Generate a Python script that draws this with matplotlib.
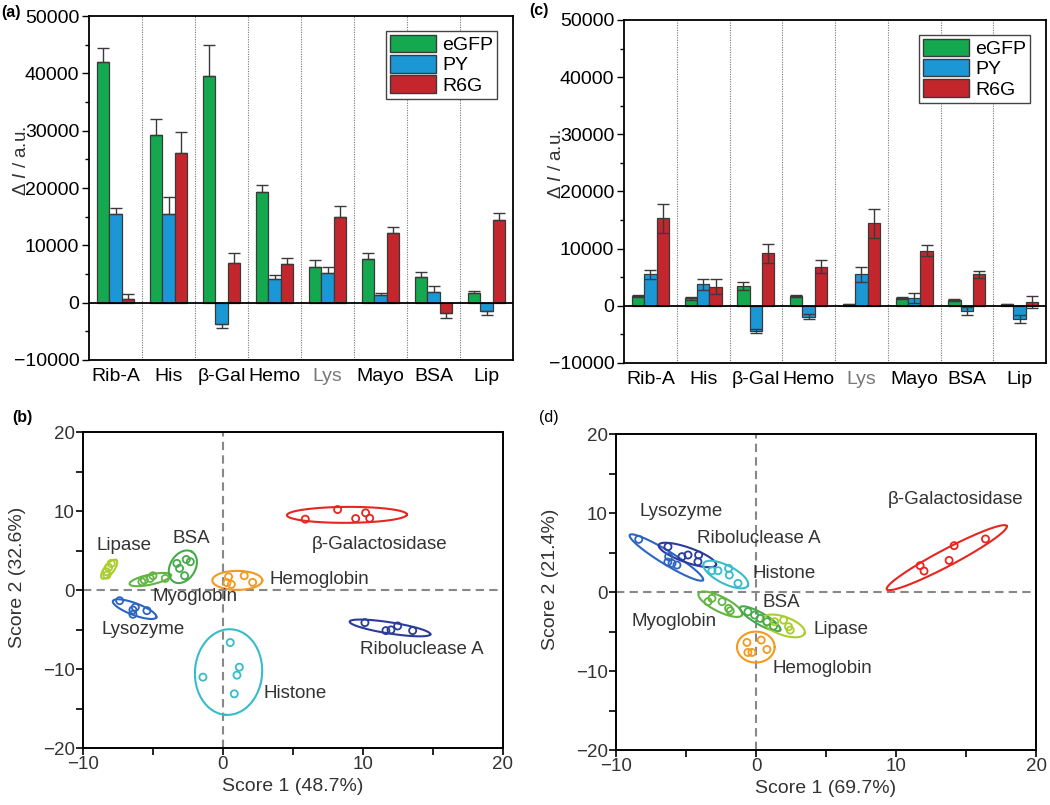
import numpy as np
import matplotlib
matplotlib.use("Agg")
import matplotlib.pyplot as plt
from matplotlib.patches import Patch
from matplotlib.ticker import MultipleLocator

plt.rcParams["font.family"] = ["Liberation Sans", "DejaVu Sans"]
plt.rcParams["mathtext.fontset"] = "custom"
plt.rcParams["mathtext.rm"] = "Liberation Sans"
plt.rcParams["mathtext.it"] = "Liberation Sans:italic"

# ── bar data ────────────────────────────────────────────────────────────────
GROUPS = ["Rib-A", "His", "β-Gal", "Hemo", "Lys", "Mayo", "BSA", "Lip"]
DYES = ["eGFP", "PY", "R6G"]
DYE_COLOURS = ["#14a84f", "#1b97d5", "#c4262e"]

# panel (a)
A_EGFP = [42000, 29300, 39600, 19300, 6200, 7550, 4470, 1630]
A_PY = [15500, 15400, -3720, 4070, 5110, 1340, 1860, -1450]
A_R6G = [600, 26100, 6970, 6680, 14900, 12200, -1740, 14500]
A_EGFP_ERR = [2500, 2700, 5300, 1300, 1300, 1150, 800, 350]
A_PY_ERR = [1000, 3100, 750, 700, 1150, 400, 1050, 700]
A_R6G_ERR = [900, 3700, 1700, 1050, 1900, 1050, 1000, 1150]

# panel (c)
C_EGFP = [1690, 1280, 3440, 1690, 290, 1400, 990, 290]
C_PY = [5490, 3740, -4440, -1930, 5490, 1400, -930, -2390]
C_R6G = [15300, 3330, 9170, 6830, 14400, 9630, 5490, 700]
C_EGFP_ERR = [150, 200, 750, 150, 100, 200, 150, 100]
C_PY_ERR = [760, 900, 400, 450, 1250, 900, 700, 700]
C_R6G_ERR = [2500, 1300, 1600, 1100, 2600, 1000, 650, 1000]

# ── PCA score data ──────────────────────────────────────────────────────────
# panel (b)
B_NAMES = ["β-Galactosidase", "Hemoglobin", "Riboluclease A", "Histone",
           "Lysozyme", "Lipase", "Myoglobin", "BSA"]
B_COLOURS = ["#e8251e", "#f29a1d", "#2a3b9c", "#36bccb",
             "#2c64c2", "#a9cd2c", "#62b543", "#45aa4a"]
B_X = [[5.88, 8.19, 9.48, 10.19, 10.48],
       [0.40, 0.29, 0.60, 1.52, 2.12],
       [10.14, 11.64, 12.0, 12.48, 13.55],
       [0.52, 1.17, 1.0, 0.81, -1.43],
       [-7.38, -6.43, -6.26, -5.43, -6.43],
       [-8.33, -8.17, -7.98, -8.29],
       [-5.79, -5.62, -5.19, -5.0, -4.12],
       [-3.29, -3.10, -2.62, -2.33, -2.74]]
B_Y = [[8.97, 10.19, 9.05, 9.77, 9.09],
       [1.68, 0.93, 0.72, 1.81, 0.97],
       [-4.13, -5.14, -5.05, -4.55, -5.14],
       [-6.65, -9.77, -10.78, -13.14, -11.03],
       [-1.35, -2.53, -2.19, -2.61, -3.07],
       [2.32, 2.86, 3.37, 1.89],
       [1.05, 1.26, 1.47, 1.81, 1.47],
       [3.37, 2.74, 3.87, 3.58, 1.81]]
# ellipse: major-axis ends (x1, y1, x2, y2) and minor width (x units)
B_ELL = [(4.57, 9.47, 13.14, 9.56, 1.14),
         (-0.76, 1.22, 2.81, 1.22, 1.36),
         (9.05, -4.0, 14.81, -5.6, 0.8),
         (0.6, -4.97, 0.2, -15.8, 4.8),
         (-7.86, -1.39, -4.76, -3.45, 0.85),
         (-8.64, 1.47, -7.62, 3.79, 0.67),
         (-6.67, 0.76, -3.71, 1.89, 0.72),
         (-3.52, 1.05, -2.21, 4.84, 1.79)]
B_LABEL_X = [11.17, 3.33, 14.21, 2.90, -5.67, -7.05, -2.02, -2.29]
B_LABEL_Y = [5.77, 1.39, -7.58, -13.05, -4.97, 5.6, -0.84, 6.53]
B_LABEL_HA = ["center", "left", "center", "left",
              "center", "center", "center", "center"]

# panel (d)
D_NAMES = ["β-Galactosidase", "Lysozyme", "Riboluclease A", "Histone",
           "Myoglobin", "BSA", "Lipase", "Hemoglobin"]
D_COLOURS = ["#e8251e", "#2c64c2", "#2a3b9c", "#36bccb",
             "#62b543", "#45aa4a", "#a9cd2c", "#f29a1d"]
D_X = [[11.72, 12.0, 13.79, 14.15, 16.39],
       [-8.38, -6.24, -6.0, -5.65, -6.3],
       [-6.29, -5.29, -4.86, -4.10, -4.15],
       [-3.15, -2.72, -1.96, -1.91, -1.29],
       [-3.15, -2.43, -1.96, -1.84, -3.43],
       [-0.58, -0.10, 0.30, 0.78, 1.25],
       [1.97, 2.32, 2.44, 1.33],
       [-0.65, 0.37, 0.78, -0.58, -0.29]]
D_Y = [[3.34, 2.66, 4.01, 5.87, 6.72],
       [6.67, 4.48, 3.63, 3.42, 3.8],
       [5.74, 4.48, 4.69, 4.69, 3.84],
       [2.70, 2.70, 3.0, 2.15, 1.10],
       [-0.80, -1.22, -2.07, -2.37, -1.22],
       [-2.49, -2.91, -3.34, -3.76, -4.31],
       [-3.55, -4.39, -4.82, -3.76],
       [-6.38, -6.08, -7.27, -7.65, -7.65]]
D_ELL = [(9.34, 0.34, 17.91, 8.36, 1.2),
         (-9.02, 7.22, -3.79, 1.52, 0.95),
         (-6.95, 5.96, -2.86, 3.42, 1.07),
         (-3.74, 3.63, -0.58, 0.80, 1.3),
         (-4.10, -0.17, -1.0, -2.91, 1.07),
         (-1.13, -1.94, 1.73, -4.82, 0.83),
         (0.47, -3.34, 3.47, -5.24, 1.3),
         (-1.36, -6.97, 1.33, -6.97, 2.21)]
D_LABEL_X = [14.22, -5.36, 0.23, 1.99, -5.88, 1.80, 6.08, 4.75]
D_LABEL_Y = [11.66, 10.18, 6.80, 2.37, -3.76, -1.35, -4.73, -9.67]

FIG_W, FIG_H = 10.5, 8.05
TXT = "#333333"


def bar_panel(ax, vals, errs, two_sided):
    x = np.arange(len(GROUPS))
    w = 0.235
    for i, (v, e, c) in enumerate(zip(vals, errs, DYE_COLOURS)):
        v = np.asarray(v, float)
        e = np.asarray(e, float)
        xs = x + (i - 1) * w
        ax.bar(xs, v, width=w, color=c, edgecolor="#3a3a3a", linewidth=0.9,
               label=DYES[i], zorder=2)
        if two_sided:
            yerr = [e, e]
        else:
            yerr = [np.where(v < 0, e, 0), np.where(v >= 0, e, 0)]
        ax.errorbar(xs, v, yerr=yerr, fmt="none", ecolor="#3a3a3a",
                    elinewidth=1.0, capsize=4, capthick=1.0, zorder=3)
    ax.axhline(0, color="black", lw=1.3, zorder=4)
    for b in np.arange(0.5, len(GROUPS) - 0.5, 1.0):
        ax.axvline(b, color="#777777", lw=0.8, ls=(0, (1, 1.2)), zorder=1)
    ax.set_xlim(-0.5, len(GROUPS) - 0.5)
    ax.set_ylim(-10000, 50000)
    ax.yaxis.set_major_locator(MultipleLocator(10000))
    ax.yaxis.set_minor_locator(MultipleLocator(5000))
    ax.set_xticks(x)
    ax.set_xticklabels(GROUPS, fontsize=14)
    ax.tick_params(axis="x", length=0, pad=6)
    ax.tick_params(axis="y", which="major", length=5, width=1.0,
                   labelsize=14, pad=2)
    ax.tick_params(axis="y", which="minor", length=3, width=1.0)
    ax.get_xticklabels()[4].set_color("#777777")
    for s in ax.spines.values():
        s.set_linewidth(1.3)
    ax.set_ylabel(r"$\mathit{Δ}$ $\mathit{I}$ / a.u.", fontsize=13.5,
                  color=TXT)
    ax.yaxis.set_label_coords(-0.14, 0.58)
    handles = [Patch(facecolor=c, edgecolor="#3a3a3a", label=d)
               for c, d in zip(DYE_COLOURS, DYES)]
    leg = ax.legend(handles=handles, loc="upper right", fontsize=14,
                    fancybox=False, edgecolor="#444444", framealpha=1,
                    handlelength=2.4, handleheight=1.0, handletextpad=0.3,
                    labelspacing=0.05, borderpad=0.2,
                    bbox_to_anchor=(0.985, 0.985))
    leg.get_frame().set_linewidth(1.0)


def ellipse_curve(e, k):
    x1, y1, x2, y2, minor = e
    # work in "visual" units where y is rescaled to match x pixel scale
    p1 = np.array([x1, y1 * k])
    p2 = np.array([x2, y2 * k])
    c = (p1 + p2) / 2
    a = (p2 - p1) / 2
    n = np.array([-a[1], a[0]]) / np.hypot(*a) * minor / 2
    t = np.linspace(0, 2 * np.pi, 200)
    pts = c[:, None] + np.outer(a, np.cos(t)) + np.outer(n, np.sin(t))
    return pts[0], pts[1] / k


def score_panel(ax, names, colours, xs, ys, ells, lx, ly, has, xlabel, ylabel):
    ax.set_xlim(-10, 20)
    ax.set_ylim(-20, 20)
    pos = ax.get_position()
    k = (pos.height * FIG_H / 40) / (pos.width * FIG_W / 30)
    ax.axhline(0, color="#888888", lw=1.5, ls=(0, (4, 2.5)), zorder=1)
    ax.axvline(0, color="#888888", lw=1.5, ls=(0, (4, 2.5)), zorder=1)
    for i, name in enumerate(names):
        col = colours[i]
        ex, ey = ellipse_curve(ells[i], k)
        ax.plot(ex, ey, color=col, lw=1.5, zorder=3)
        ax.scatter(xs[i], ys[i], s=26, facecolors="none", edgecolors=col,
                   linewidths=1.3, zorder=4)
        ax.text(lx[i], ly[i], name, ha=has[i], va="center", fontsize=13.5,
                color=TXT, zorder=5)
    ax.xaxis.set_major_locator(MultipleLocator(10))
    ax.xaxis.set_minor_locator(MultipleLocator(5))
    ax.yaxis.set_major_locator(MultipleLocator(10))
    ax.yaxis.set_minor_locator(MultipleLocator(5))
    ax.tick_params(which="major", length=5, width=1.2, labelsize=13.5,
                   labelcolor=TXT, pad=1)
    ax.tick_params(which="minor", length=5, width=1.2)
    for s in ax.spines.values():
        s.set_linewidth(1.4)
    ax.set_xlabel(xlabel, fontsize=14, color=TXT, labelpad=3)
    ax.set_ylabel(ylabel, fontsize=14, color=TXT)
    ax.yaxis.set_label_coords(-0.135, 0.54)


fig = plt.figure(figsize=(FIG_W, FIG_H), dpi=100)
ax_a = fig.add_axes([0.0848, 0.5528, 0.4038, 0.4273])
ax_c = fig.add_axes([0.5943, 0.5491, 0.4019, 0.4261])
ax_b = fig.add_axes([0.0790, 0.0708, 0.4000, 0.3925])
ax_d = fig.add_axes([0.5867, 0.0683, 0.4000, 0.3925])

bar_panel(ax_a, [A_EGFP, A_PY, A_R6G], [A_EGFP_ERR, A_PY_ERR, A_R6G_ERR],
          two_sided=False)
bar_panel(ax_c, [C_EGFP, C_PY, C_R6G], [C_EGFP_ERR, C_PY_ERR, C_R6G_ERR],
          two_sided=True)

score_panel(ax_b, B_NAMES, B_COLOURS, B_X, B_Y, B_ELL, B_LABEL_X, B_LABEL_Y,
            B_LABEL_HA, "Score 1 (48.7%)", "Score 2 (32.6%)")
score_panel(ax_d, D_NAMES, D_COLOURS, D_X, D_Y, D_ELL, D_LABEL_X, D_LABEL_Y,
            ["center"] * len(D_NAMES), "Score 1 (69.7%)", "Score 2 (21.4%)")

fig.text(0.001, 0.985, "(a)", fontsize=11.5, fontweight="bold", va="center")
fig.text(0.504, 0.987, "(c)", fontsize=11.5, fontweight="bold", va="center")
fig.text(0.012, 0.481, "(b)", fontsize=11.5, fontweight="bold", va="center")
fig.text(0.513, 0.481, "(d)", fontsize=11.5, va="center")

fig.savefig("out.png", dpi=100)
